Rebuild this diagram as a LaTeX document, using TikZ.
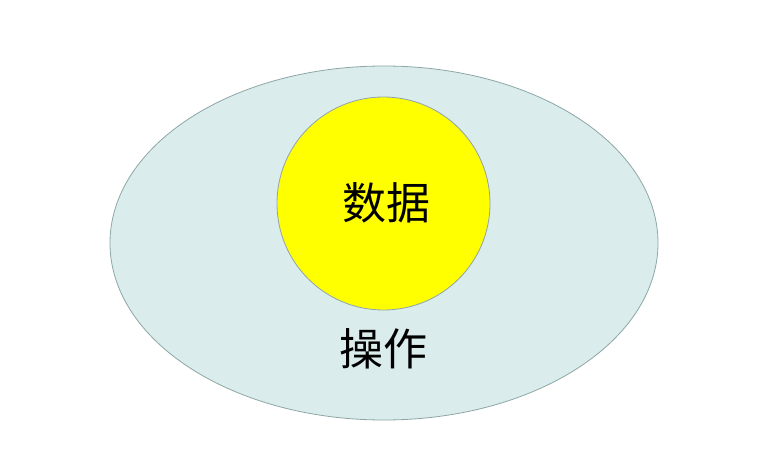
\documentclass[tikz,border=0pt]{standalone}
\usepackage{fontspec}
\usetikzlibrary{shapes.geometric}
\newfontfamily\cjk{Noto Sans CJK SC}
\definecolor{opfill}{RGB}{218,236,236}
\definecolor{opline}{RGB}{142,166,166}
\definecolor{dline}{RGB}{143,163,175}
\definecolor{dfill}{RGB}{255,255,0}
\begin{document}
\begin{tikzpicture}[x=1pt,y=-1pt,
  lbl/.style={font=\cjk\fontsize{44}{50}\selectfont, inner sep=0pt}]
\useasboundingbox (0,0) rectangle (774,457);
\node[draw=opline, fill=opfill, ellipse, line width=0.8pt, minimum width=548pt, minimum height=354pt, inner sep=0pt] (op) at (384,243) {};
\node[draw=dline, fill=dfill, circle, line width=0.8pt, minimum size=213pt, inner sep=0pt] (data) at (383.5,203.5) {};
\node[lbl] (dt) at (386,203) {数据};
\node[lbl] (ot) at (383,349) {操作};
\end{tikzpicture}
\end{document}
